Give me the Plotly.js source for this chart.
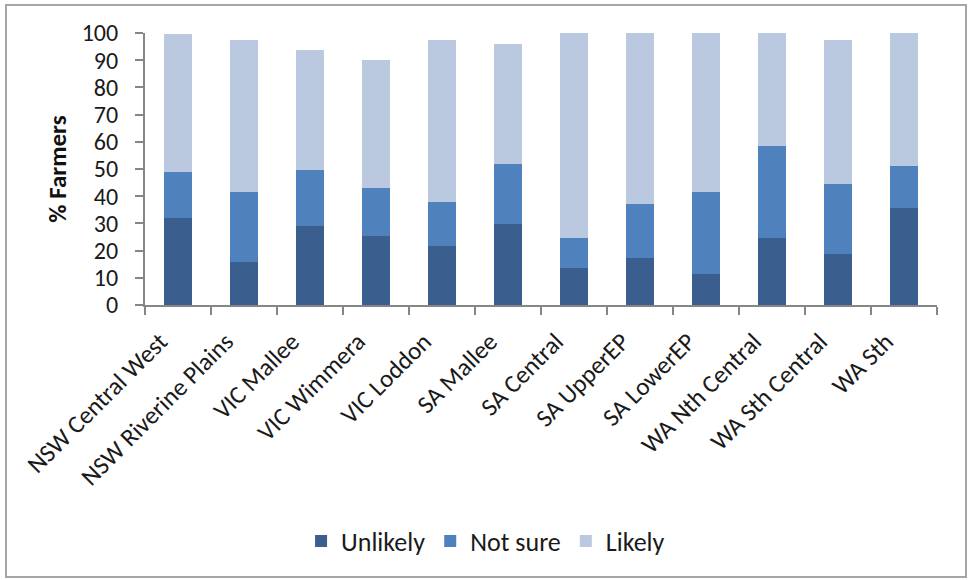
<!DOCTYPE html>
<html>
<head>
<meta charset="utf-8">
<script src="https://cdn.plot.ly/plotly-3.0.1.min.js"></script>
<style>
  html, body { margin: 0; padding: 0; background: #fff; }
  #frame { position: absolute; left: 5px; top: 4px; width: 962px; height: 574px; border: 2px solid #a6a6a6; box-sizing: border-box; pointer-events: none; }
  #chart { width: 968px; height: 580px; }
</style>
</head>
<body>
<div id="chart"></div>
<div id="frame"></div>
<script>
const categories = ["NSW Central West", "NSW Riverine Plains", "VIC Mallee", "VIC Wimmera", "VIC Loddon", "SA Mallee", "SA Central", "SA UpperEP", "SA LowerEP", "WA Nth Central", "WA Sth Central", "WA Sth"];
const unlikely = [32, 15.7, 29, 25.3, 21.6, 29.7, 13.5, 17.2, 11.3, 24.5, 18.8, 35.6];
const notSure  = [16.8, 25.8, 20.6, 17.6, 16.2, 22.1, 11, 20, 30.2, 34, 25.7, 15.6];
const likely   = [51, 56, 44.3, 47.3, 59.7, 44.3, 75.5, 62.8, 58.5, 41.5, 53, 48.8];
const yTicks = [0, 10, 20, 30, 40, 50, 60, 70, 80, 90, 100];

const font = "Carlito, Calibri, Lato, 'Liberation Sans', sans-serif";

function series(name, vals, color) {
  return { type: "bar", name: name, x: categories, y: vals, marker: { color: color, line: { width: 0 } }, hoverinfo: "y+name" };
}

const data = [
  series("Unlikely", unlikely, "#3A5F8E"),
  series("Not sure", notSure, "#4F81BD"),
  series("Likely", likely, "#BAC8E0")
];

const layout = {
  width: 968, height: 580,
  margin: { l: 145, r: 31, t: 33, b: 275 },
  barmode: "stack",
  bargap: 0.58,
  paper_bgcolor: "#fff", plot_bgcolor: "#fff",
  font: { family: font, color: "#1a1a1a", size: 22 },
  xaxis: {
    type: "category",
    tickangle: -45,
    tickson: "boundaries",
    ticks: "outside", ticklen: 8, tickcolor: "#868686", tickwidth: 2,
    ticklabelstandoff: 10,
    ticklabelshift: -18,
    showline: true, linecolor: "#868686", linewidth: 2,
    showgrid: false, zeroline: false,
    tickfont: { size: 25, family: font, color: "#1a1a1a" }
  },
  yaxis: {
    range: [0, 100],
    tickvals: yTicks,
    ticktext: yTicks.map(String),
    ticks: "outside", ticklen: 8, tickcolor: "#868686", tickwidth: 2,
    ticklabelstandoff: 12,
    showline: true, linecolor: "#868686", linewidth: 2,
    showgrid: false, zeroline: false,
    tickfont: { size: 24, family: font, color: "#1a1a1a" },
    title: { text: "<b>% Farmers</b>", font: { size: 25, family: font, color: "#111" }, standoff: 8 }
  },
  showlegend: true,
  legend: {
    orientation: "h", x: 0.43, xanchor: "center", y: -0.868, yanchor: "middle",
    font: { size: 26, family: font, color: "#1a1a1a" },
    traceorder: "normal", itemwidth: 30
  }
};

Plotly.newPlot("chart", data, layout, { displayModeBar: false, staticPlot: true });
</script>
</body>
</html>
